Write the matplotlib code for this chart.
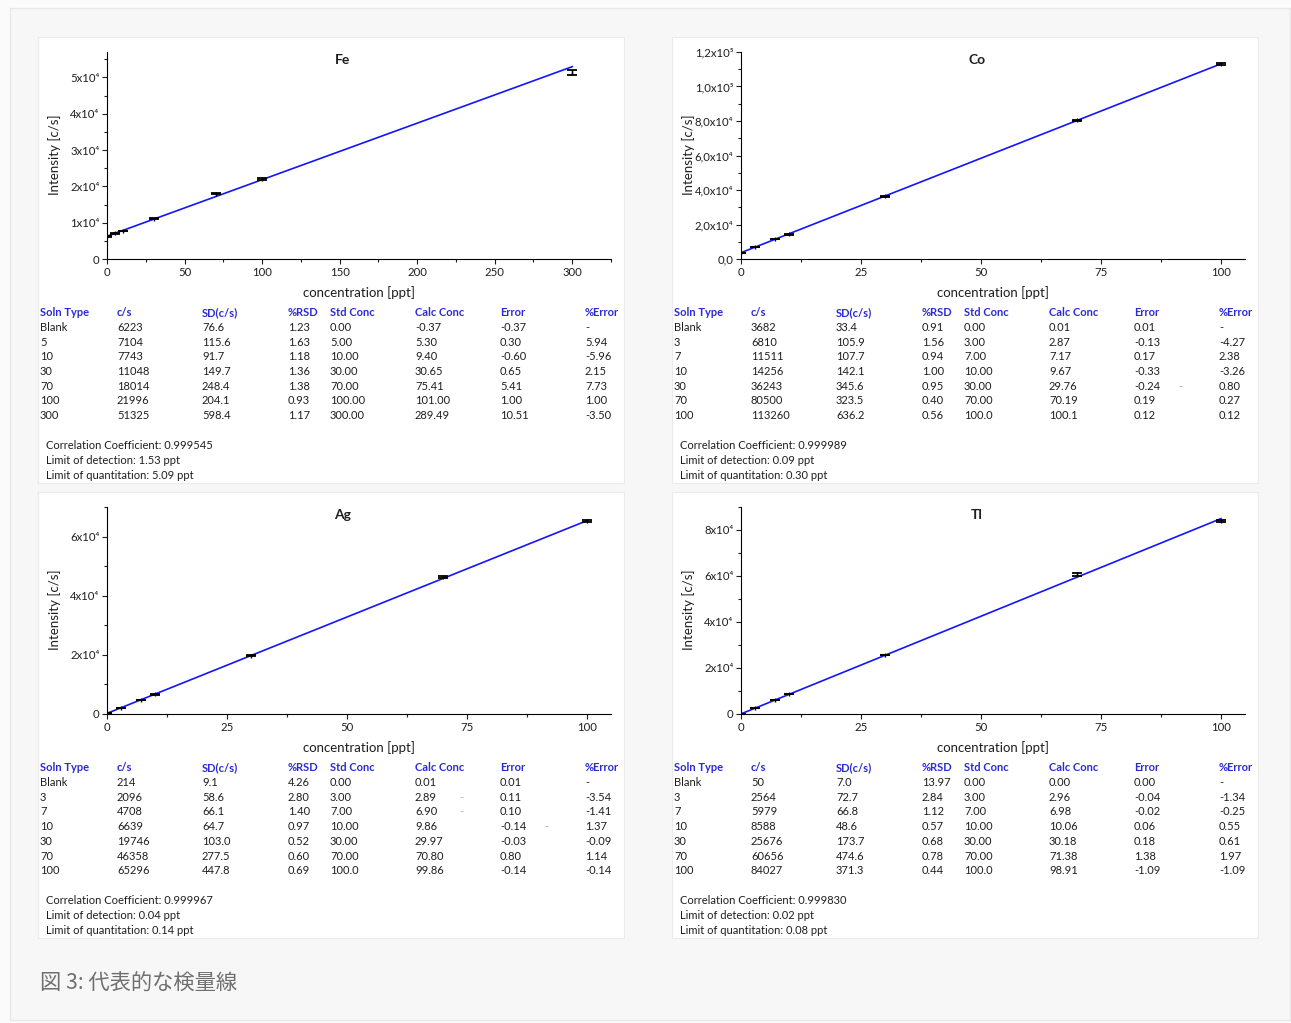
"""
Typical calibration curves (Fe, Co, Ag, Tl) with their result tables.
"""

import numpy as np
import matplotlib.pyplot as plt
from matplotlib.patches import Rectangle
from matplotlib.ticker import MultipleLocator

W, H = 1291, 1023

plt.rcParams['font.family'] = ['Lato', 'DejaVu Sans']
plt.rcParams['axes.linewidth'] = 0.8

# ---- data -------------------------------------------------------------
fe_soln = ['Blank', '5', '10', '30', '70', '100', '300']
fe_std = [0, 5, 10, 30, 70, 100, 300]
fe_cps = [6223, 7104, 7743, 11048, 18014, 21996, 51325]
fe_sd = [76.6, 115.6, 91.7, 149.7, 248.4, 204.1, 598.4]
fe_rsd = ['1.23', '1.63', '1.18', '1.36', '1.38', '0.93', '1.17']
fe_stdtxt = ['0.00', '5.00', '10.00', '30.00', '70.00', '100.00', '300.00']
fe_calc = ['-0.37', '5.30', '9.40', '30.65', '75.41', '101.00', '289.49']
fe_err = ['-0.37', '0.30', '-0.60', '0.65', '5.41', '1.00', '10.51']
fe_perr = ['-', '5.94', '-5.96', '2.15', '7.73', '1.00', '-3.50']
fe_foot = ['Correlation Coefficient: 0.999545',
           'Limit of detection: 1.53 ppt',
           'Limit of quantitation: 5.09 ppt']

co_soln = ['Blank', '3', '7', '10', '30', '70', '100']
co_std = [0, 3, 7, 10, 30, 70, 100]
co_cps = [3682, 6810, 11511, 14256, 36243, 80500, 113260]
co_sd = [33.4, 105.9, 107.7, 142.1, 345.6, 323.5, 636.2]
co_rsd = ['0.91', '1.56', '0.94', '1.00', '0.95', '0.40', '0.56']
co_stdtxt = ['0.00', '3.00', '7.00', '10.00', '30.00', '70.00', '100.0']
co_calc = ['0.01', '2.87', '7.17', '9.67', '29.76', '70.19', '100.1']
co_err = ['0.01', '-0.13', '0.17', '-0.33', '-0.24', '0.19', '0.12']
co_perr = ['-', '-4.27', '2.38', '-3.26', '0.80', '0.27', '0.12']
co_foot = ['Correlation Coefficient: 0.999989',
           'Limit of detection: 0.09 ppt',
           'Limit of quantitation: 0.30 ppt']

ag_soln = ['Blank', '3', '7', '10', '30', '70', '100']
ag_std = [0, 3, 7, 10, 30, 70, 100]
ag_cps = [214, 2096, 4708, 6639, 19746, 46358, 65296]
ag_sd = [9.1, 58.6, 66.1, 64.7, 103.0, 277.5, 447.8]
ag_rsd = ['4.26', '2.80', '1.40', '0.97', '0.52', '0.60', '0.69']
ag_stdtxt = ['0.00', '3.00', '7.00', '10.00', '30.00', '70.00', '100.0']
ag_calc = ['0.01', '2.89', '6.90', '9.86', '29.97', '70.80', '99.86']
ag_err = ['0.01', '0.11', '0.10', '-0.14', '-0.03', '0.80', '-0.14']
ag_perr = ['-', '-3.54', '-1.41', '1.37', '-0.09', '1.14', '-0.14']
ag_foot = ['Correlation Coefficient: 0.999967',
           'Limit of detection: 0.04 ppt',
           'Limit of quantitation: 0.14 ppt']

tl_soln = ['Blank', '3', '7', '10', '30', '70', '100']
tl_std = [0, 3, 7, 10, 30, 70, 100]
tl_cps = [50, 2564, 5979, 8588, 25676, 60656, 84027]
tl_sd = [7.0, 72.7, 66.8, 48.6, 173.7, 474.6, 371.3]
tl_rsd = ['13.97', '2.84', '1.12', '0.57', '0.68', '0.78', '0.44']
tl_stdtxt = ['0.00', '3.00', '7.00', '10.00', '30.00', '70.00', '100.0']
tl_calc = ['0.00', '2.96', '6.98', '10.06', '30.18', '71.38', '98.91']
tl_err = ['0.00', '-0.04', '-0.02', '0.06', '0.18', '1.38', '-1.09']
tl_perr = ['-', '-1.34', '-0.25', '0.55', '0.61', '1.97', '-1.09']
tl_foot = ['Correlation Coefficient: 0.999830',
           'Limit of detection: 0.02 ppt',
           'Limit of quantitation: 0.08 ppt']

headers = ['Soln Type', 'c/s', 'SD(c/s)', '%RSD', 'Std Conc',
           'Calc Conc', 'Error', '%Error']

fe_yticks = [0, 1e4, 2e4, 3e4, 4e4, 5e4]
fe_ylabels = ['0', '1x10⁴', '2x10⁴', '3x10⁴', '4x10⁴', '5x10⁴']
co_yticks = [0, 2e4, 4e4, 6e4, 8e4, 1e5, 1.2e5]
co_ylabels = ['0,0', '2,0x10⁴', '4,0x10⁴', '6,0x10⁴', '8,0x10⁴',
              '1,0x10⁵', '1,2x10⁵']
ag_yticks = [0, 2e4, 4e4, 6e4]
ag_ylabels = ['0', '2x10⁴', '4x10⁴', '6x10⁴']
tl_yticks = [0, 2e4, 4e4, 6e4, 8e4]
tl_ylabels = ['0', '2x10⁴', '4x10⁴', '6x10⁴', '8x10⁴']

caption = '図 3: 代表的な検量線'

BLUE_HEAD = '#2b2bd6'
TXT = '#1e1e1e'
CELL = dict(ha='left', va='baseline', fontsize=8)
BASE = 4  # px from text centre down to its baseline


def fx(x):
    return x / W


def fy(y):
    return 1 - y / H


def panel(fig, ox, oy, name, soln, std, cps, sd, cols, foot,
          yticks, ylabels, ylim, xmax, xmajor, xminor, yminor, dashes):
    # white panel background
    fig.patches.append(Rectangle((fx(38 + ox), fy(483 + oy)),
                                 586 / W, 446 / H,
                                 transform=fig.transFigure,
                                 facecolor='white', edgecolor='#ebebeb',
                                 linewidth=0.8, zorder=-5))

    ax = fig.add_axes([fx(107 + ox), fy(259 + oy),
                       504 / W, 207 / H])
    ax.set_facecolor('none')
    ax.spines[['top', 'right']].set_visible(False)

    # calibration line from the reported calculated concentrations
    b, a = np.polyfit(np.array(cols[2], dtype=float), cps, 1)
    xs = np.array([0, max(std)])
    ax.plot(xs, a + b * xs, color='#1414ff', lw=1.2, zorder=2)
    ax.errorbar(std, cps, yerr=sd, fmt='none', ecolor='black',
                elinewidth=1.0, capsize=3.5, capthick=1.3, zorder=3)
    ax.plot(std, cps, '|', color='black', ms=3, mew=1.0, zorder=3)

    ax.set_xlim(0, xmax)
    ax.set_ylim(*ylim)
    ax.xaxis.set_major_locator(MultipleLocator(xmajor))
    ax.xaxis.set_minor_locator(MultipleLocator(xminor))
    ax.set_yticks(yticks, ylabels)
    ax.yaxis.set_minor_locator(MultipleLocator(yminor))
    ax.tick_params(which='both', direction='out', width=0.8,
                   labelsize=8.2, pad=2, colors=TXT)
    ax.tick_params(which='major', length=3.5)
    ax.tick_params(which='minor', length=2)

    fig.text(fx(359 + ox), fy(293 + oy), 'concentration [ppt]',
             ha='center', va='center', fontsize=9.5, color=TXT)
    fig.text(fx(55 + ox), fy(155 + oy), 'Intensity [c/s]',
             ha='center', va='center', rotation=90, fontsize=9.5,
             color=TXT)
    fig.text(fx(343 + ox), fy(60 + oy), name, ha='center', va='center',
             fontsize=10, fontweight='bold', color=TXT)

    # result table
    colx = [2, 79, 164, 250, 292, 377, 462, 547]
    for cx, head in zip(colx, headers):
        fig.text(fx(38 + ox + cx), fy(312 + oy + BASE), head,
                 fontweight='bold', color=BLUE_HEAD, **CELL)
    table = [soln, [str(v) for v in cps], ['%.1f' % v for v in sd]] + cols
    for r in range(len(soln)):
        for cx, col in zip(colx, table):
            fig.text(fx(38 + ox + cx), fy(327 + oy + 14.7 * r + BASE),
                     col[r], color=TXT, **CELL)
    for r, cx in dashes:
        fig.text(fx(38 + ox + cx), fy(327 + oy + 14.7 * r + BASE), '-',
                 color='#b0b0b0', **CELL)
    for i, line in enumerate(foot):
        fig.text(fx(46 + ox), fy(445 + oy + 15 * i + BASE), line,
                 color=TXT, **CELL)
    return ax


fig = plt.figure(figsize=(W / 100, H / 100), dpi=100)
fig.patch.set_facecolor('#fbfbfb')
fig.patches.append(Rectangle((fx(10), fy(1020)), 1280 / W, 1012 / H,
                             transform=fig.transFigure,
                             facecolor='#f7f7f7', edgecolor='#e8e8e8',
                             linewidth=1.0, zorder=-10))

panel(fig, 0, 0, 'Fe', fe_soln, fe_std, fe_cps, fe_sd,
      [fe_rsd, fe_stdtxt, fe_calc, fe_err, fe_perr], fe_foot,
      fe_yticks, fe_ylabels, (0, 57000), 325, 50, 25, 5000, [])
panel(fig, 634, 0, 'Co', co_soln, co_std, co_cps, co_sd,
      [co_rsd, co_stdtxt, co_calc, co_err, co_perr], co_foot,
      co_yticks, co_ylabels, (0, 1.2e5), 105, 25, 12.5, 1e4,
      [(4, 506)])
panel(fig, 0, 455, 'Ag', ag_soln, ag_std, ag_cps, ag_sd,
      [ag_rsd, ag_stdtxt, ag_calc, ag_err, ag_perr], ag_foot,
      ag_yticks, ag_ylabels, (0, 7e4), 105, 25, 12.5, 1e4,
      [(1, 421), (2, 421), (3, 506)])
panel(fig, 634, 455, 'Tl', tl_soln, tl_std, tl_cps, tl_sd,
      [tl_rsd, tl_stdtxt, tl_calc, tl_err, tl_perr], tl_foot,
      tl_yticks, tl_ylabels, (0, 9e4), 105, 25, 12.5, 1e4, [])

fig.text(fx(40), fy(984), caption, ha='left', va='center', fontsize=15.3,
         color='#6e6e6e', family=['Noto Sans CJK JP', 'DejaVu Sans'])

fig.savefig('out.png', dpi=100, facecolor=fig.get_facecolor())
